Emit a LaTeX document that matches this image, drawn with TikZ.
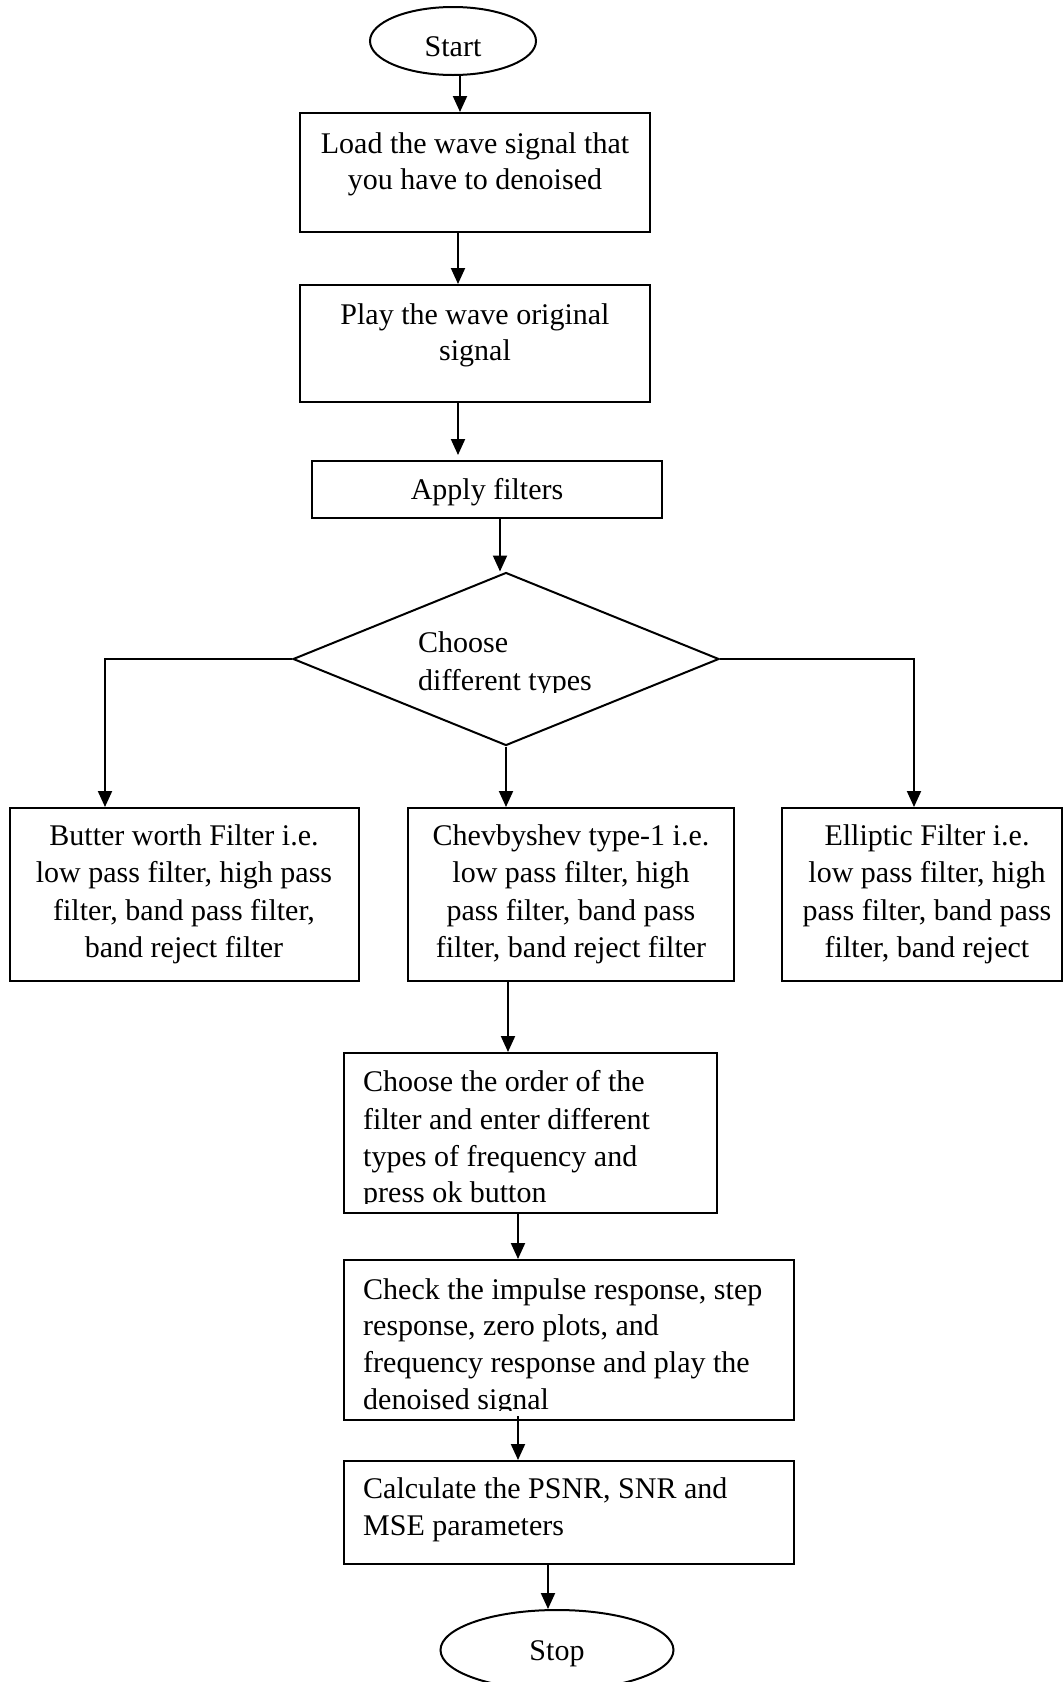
\documentclass[tikz,border=0pt]{standalone}
\usepackage{fontspec}
\setmainfont{Liberation Serif}
\usetikzlibrary{arrows.meta,shapes.geometric,calc}
\tikzset{
  bx/.style={draw, line width=2pt, rectangle, inner sep=0pt},
  ov/.style={draw, line width=2pt, ellipse, inner sep=0pt},
  tx/.style={font=\fontsize{30}{37}\selectfont, inner sep=0pt, anchor=base},
  txl/.style={tx, anchor=base west},
  arr/.style={line width=2pt, -{Triangle[length=16pt,width=14pt]}}
}
\begin{document}
\begin{tikzpicture}[x=1pt,y=-1pt]
\useasboundingbox (0,0) rectangle (1063,1682);
\clip (0,0) rectangle (1063,1682);

% shapes
\node[ov, minimum width=166pt, minimum height=68pt] (start) at (453,41) {};
\node[bx, minimum width=350pt, minimum height=119pt] (load) at (475,172.5) {};
\node[bx, minimum width=350pt, minimum height=117pt] (play) at (475,343.5) {};
\node[bx, minimum width=350pt, minimum height=57pt] (apply) at (487,489.5) {};
\node[draw, diamond, line width=2pt, inner sep=0pt, minimum width=426pt, minimum height=173pt] (dec) at (506,659) {};
\node[bx, minimum width=349pt, minimum height=173pt] (butter) at (184,894.5) {};
\node[bx, minimum width=326pt, minimum height=173pt] (chev) at (571,894.5) {};
\node[bx, minimum width=280pt, minimum height=173pt] (ellip) at (922,894.5) {};
\node[bx, minimum width=373pt, minimum height=160pt] (order) at (530.5,1133) {};
\node[bx, minimum width=450pt, minimum height=160pt] (check) at (569,1340) {};
\node[bx, minimum width=450pt, minimum height=103pt] (calc) at (569,1512.5) {};
\node[ov, minimum width=233pt, minimum height=80pt] (stop) at (557,1650) {};

% texts
\node[tx] (tstart) at (453,56) {Start};
\node[tx] (tload1) at (475,153) {Load the wave signal that};
\node[tx] (tload2) at (475,189) {you have to denoised};
\node[tx] (tplay1) at (475,324) {Play the wave original};
\node[tx] (tplay2) at (475,360) {signal};
\node[tx] (tapply) at (487,499) {Apply filters};
\node[txl] (tdec1) at (418,652) {Choose};
\begin{scope}
  \clip (0,0) rectangle (1063,692);
  \node[txl] (tdec2) at (418,690) {different types};
\end{scope}

\node[tx] (tb1) at (184,845) {Butter worth Filter i.e.};
\node[tx] (tb2) at (184,882) {low pass filter, high pass};
\node[tx] (tb3) at (184,920) {filter, band pass filter,};
\node[tx] (tb4) at (184,957) {band reject filter};

\node[tx] (tc1) at (571,845) {Chevbyshev type-1 i.e.};
\node[tx] (tc2) at (571,882) {low pass filter, high};
\node[tx] (tc3) at (571,920) {pass filter, band pass};
\node[tx] (tc4) at (571,957) {filter, band reject filter};

\node[tx] (te1) at (927,845) {Elliptic Filter i.e.};
\node[tx] (te2) at (927,882) {low pass filter, high};
\node[tx] (te3) at (927,920) {pass filter, band pass};
\node[tx] (te4) at (927,957) {filter, band reject};

\node[txl] (to1) at (363,1091) {Choose the order of the};
\node[txl] (to2) at (363,1129) {filter and enter different};
\node[txl] (to3) at (363,1166) {types of frequency and};
\begin{scope}
  \clip (0,0) rectangle (1063,1203.5);
  \node[txl] (to4) at (363,1202) {press ok button};
\end{scope}

\node[txl] (tk1) at (363,1299) {Check the impulse response, step};
\node[txl] (tk2) at (363,1335) {response, zero plots, and};
\node[txl] (tk3) at (363,1372) {frequency response and play the};
\begin{scope}
  \clip (0,0) rectangle (1063,1410.5);
  \node[txl] (tk4) at (363,1409) {denoised signal};
\end{scope}

\node[txl] (ta1) at (363,1498) {Calculate the PSNR, SNR and};
\node[txl] (ta2) at (363,1535) {MSE parameters};

\node[tx] (tstop) at (557,1660) {Stop};

% connectors
\draw[arr] ([xshift=7pt]start.south) -- ([xshift=7pt]start.south |- load.north);
\draw[arr] ([xshift=-17pt]load.south) -- ([xshift=-17pt]load.south |- play.north);
\draw[arr] ([xshift=-17pt]play.south) -- ([xshift=-17pt,yshift=5pt]play.south |- apply.north);
\draw[arr] ([xshift=13pt]apply.south) -- ([xshift=13pt]apply.south |- dec.north);
\draw[arr] (dec.west) -| ([xshift=-79pt]butter.north);
\draw[arr] (dec.east) -| ([xshift=-8pt]ellip.north);
\draw[arr] (dec.south) -- (dec.south |- chev.north);
\draw[arr] ([xshift=-63pt]chev.south) -- ([xshift=-63pt]chev.south |- order.north);
\draw[arr] ([xshift=-12.5pt]order.south) -- ([xshift=-12.5pt]order.south |- check.north);
\draw[arr] ([xshift=-51pt,yshift=5pt]check.south) -- ([xshift=-51pt]check.south |- calc.north);
\draw[arr] ([xshift=-21pt]calc.south) -- ([xshift=-21pt]calc.south |- stop.north);
\end{tikzpicture}
\end{document}
